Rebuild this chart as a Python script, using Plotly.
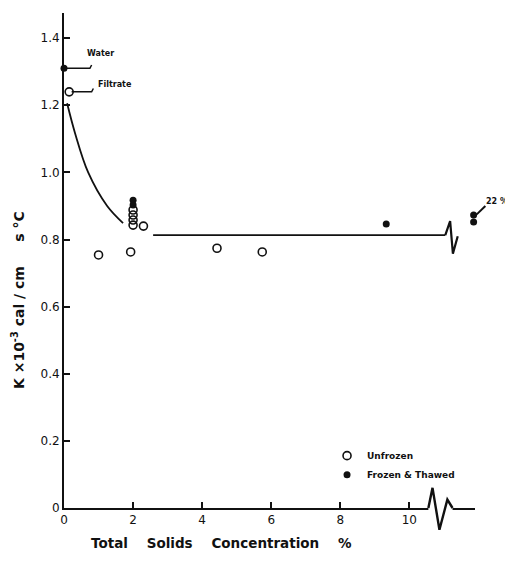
import plotly.graph_objects as go

# ---- data ----
unfrozen_x = [0.15, 1.0, 1.93, 2.0, 2.0, 2.0, 2.0, 2.3, 4.43, 5.74]
unfrozen_y = [1.24, 0.754, 0.763, 0.888, 0.873, 0.858, 0.843, 0.840, 0.774, 0.763]
frozen_x = [0.0, 2.0, 2.0, 9.33, 11.86, 11.86]
frozen_y = [1.31, 0.917, 0.903, 0.846, 0.873, 0.852]
curve_x = [0.09, 0.32, 0.7, 1.25, 1.71]
curve_y = [1.206, 1.117, 1.0, 0.9, 0.849]
flat_x = [2.58, 11.04]
flat_y = [0.813, 0.813]
# decorations: axis break, line break, pointers
axis_break_x = [10.55, 10.67, 10.87, 11.1, 11.25]
axis_break_y = [0.0, 0.06, -0.065, 0.025, 0.0]
line_break_x = [11.04, 11.18, 11.26, 11.4]
line_break_y = [0.813, 0.855, 0.758, 0.81]
water_ptr_x = [0.0, 0.75, 0.8]
water_ptr_y = [1.31, 1.31, 1.32]
filtrate_ptr_x = [0.22, 0.8, 0.85]
filtrate_ptr_y = [1.24, 1.24, 1.25]
pct_ptr_x = [11.95, 12.2]
pct_ptr_y = [0.875, 0.9]
yticks = [0, 0.2, 0.4, 0.6, 0.8, 1.0, 1.2, 1.4]
yticktext = ["0", "0.2", "0.4", "0.6", "0.8", "1.0", "1.2", "1.4"]
xticks = [0, 2, 4, 6, 8, 10]
xticktext = ["0", "2", "4", "6", "8", "10"]

X_RANGE = [0, 11.9]
Y_RANGE = [0, 1.475]

BLACK = "#111111"
FONT = "DejaVu Sans"

def px(x):
    return (x - X_RANGE[0]) / (X_RANGE[1] - X_RANGE[0])

def py(y):
    return (y - Y_RANGE[0]) / (Y_RANGE[1] - Y_RANGE[0])

def paper_path(xs, ys):
    pts = [f"{px(x):.5f},{py(y):.5f}" for x, y in zip(xs, ys)]
    return "M " + " L ".join(pts)

fig = go.Figure()

def deco(x, y, w=1.8):
    fig.add_trace(go.Scatter(x=x, y=y, mode="lines", line=dict(color=BLACK, width=w),
                             showlegend=False, hoverinfo="skip", cliponaxis=False))

fig.add_trace(go.Scatter(x=curve_x, y=curve_y, mode="lines", line=dict(color=BLACK, width=1.8, shape="spline"),
                         showlegend=False, cliponaxis=False))
deco(flat_x, flat_y)
deco(line_break_x, line_break_y, 2.2)
deco(water_ptr_x, water_ptr_y, 1.5)
deco(filtrate_ptr_x, filtrate_ptr_y, 1.5)

fig.add_trace(go.Scatter(x=unfrozen_x, y=unfrozen_y, mode="markers", name="<b>Unfrozen</b>",
                         marker=dict(symbol="circle-open", size=8, color=BLACK, line=dict(width=1.6)),
                         cliponaxis=False))
fig.add_trace(go.Scatter(x=frozen_x, y=frozen_y, mode="markers", name="<b>Frozen & Thawed</b>",
                         marker=dict(symbol="circle", size=7, color=BLACK),
                         cliponaxis=False))

# axis break (white gap + zigzag) and 22% pointer, in paper coordinates so they are not clipped
fig.add_shape(type="line", xref="paper", yref="paper",
              x0=px(axis_break_x[0]), x1=px(axis_break_x[-1]), y0=py(0), y1=py(0),
              line=dict(color="white", width=4), layer="above")
fig.add_shape(type="path", xref="paper", yref="paper", path=paper_path(axis_break_x, axis_break_y),
              line=dict(color=BLACK, width=2.4), layer="above")
fig.add_shape(type="path", xref="paper", yref="paper", path=paper_path(pct_ptr_x, pct_ptr_y),
              line=dict(color=BLACK, width=2.0), layer="above")

fig.add_annotation(x=1.07, y=1.355, text="<b>Water</b>", showarrow=False,
                   font=dict(family=FONT, size=8, color=BLACK))
fig.add_annotation(x=1.48, y=1.263, text="<b>Filtrate</b>", showarrow=False,
                   font=dict(family=FONT, size=8, color=BLACK))
fig.add_annotation(x=px(12.15), y=py(0.895), xref="paper", yref="paper", text="<b>22 %</b>",
                   showarrow=False, xanchor="left", yanchor="bottom",
                   font=dict(family=FONT, size=8, color=BLACK))
fig.add_annotation(x=4.57, y=-0.091, xref="x", yref="paper", text="<b>Total    Solids    Concentration    %</b>",
                   showarrow=False, font=dict(family=FONT, size=13.5, color=BLACK))
fig.add_annotation(x=-0.112, y=0.42, xref="paper", yref="paper", textangle=-90, xanchor="center",
                   yanchor="middle",
                   text="<b>K ×10<sup>-3</sup> cal / cm     s °C</b>",
                   showarrow=False, font=dict(family=FONT, size=14, color=BLACK))

fig.update_layout(
    width=513, height=562,
    margin=dict(l=56, r=46, t=5, b=62),
    paper_bgcolor="white", plot_bgcolor="white",
    font=dict(family=FONT, color=BLACK),
    legend=dict(x=0.64, y=0.135, xanchor="left", yanchor="top", bgcolor="rgba(0,0,0,0)",
                font=dict(family=FONT, size=9, color=BLACK), itemwidth=30, tracegroupgap=2),
    xaxis=dict(range=X_RANGE, showgrid=False, zeroline=False, showline=True, linecolor=BLACK, linewidth=2,
               ticks="inside", ticklen=6, tickwidth=1.5, tickcolor=BLACK,
               tickvals=xticks, ticktext=xticktext, tickfont=dict(family=FONT, size=12, color=BLACK)),
    yaxis=dict(range=Y_RANGE, showgrid=False, zeroline=False, showline=True, linecolor=BLACK, linewidth=2,
               ticks="inside", ticklen=6, tickwidth=1.5, tickcolor=BLACK,
               tickvals=yticks, ticktext=yticktext, tickfont=dict(family=FONT, size=12, color=BLACK)),
)

fig.write_html("out.html")
